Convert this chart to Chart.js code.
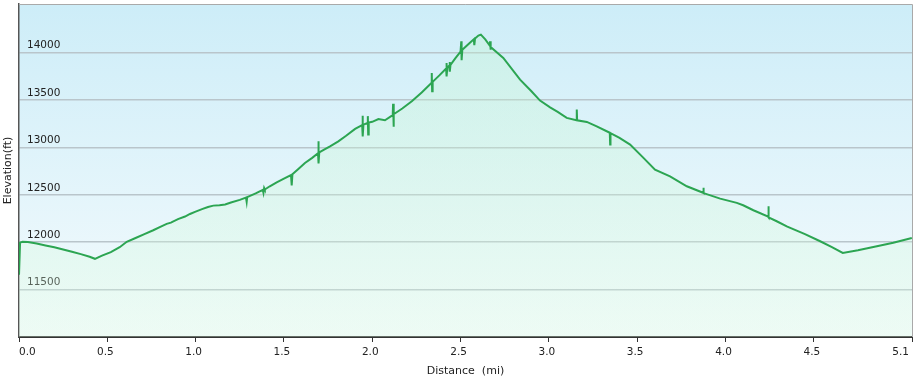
<!DOCTYPE html>
<html><head><meta charset="utf-8">
<script src="https://cdn.jsdelivr.net/npm/chart.js@4"></script>
<style>html,body{margin:0;padding:0;background:#fff}</style>
</head><body>
<canvas id="c" width="917" height="383"></canvas>
<script>
const distances = [0.000,0.006,0.020,0.050,0.100,0.150,0.200,0.250,0.300,0.350,0.400,0.430,0.470,0.520,0.570,0.610,0.660,0.710,0.760,0.800,0.836,0.860,0.900,0.940,0.968,1.000,1.040,1.070,1.100,1.135,1.167,1.200,1.250,1.285,1.289,1.292,1.340,1.380,1.384,1.388,1.392,1.420,1.459,1.500,1.540,1.544,1.548,1.580,1.619,1.660,1.693,1.695,1.697,1.700,1.730,1.761,1.808,1.850,1.903,1.943,1.945,1.947,1.950,1.973,1.975,1.977,1.980,2.000,2.035,2.072,2.116,2.118,2.120,2.123,2.170,2.224,2.280,2.335,2.337,2.339,2.342,2.380,2.418,2.420,2.422,2.425,2.436,2.438,2.440,2.443,2.470,2.500,2.504,2.506,2.510,2.550,2.575,2.578,2.582,2.601,2.615,2.640,2.665,2.667,2.669,2.672,2.742,2.837,2.900,2.950,3.007,3.050,3.101,3.156,3.158,3.160,3.215,3.271,3.345,3.347,3.349,3.400,3.460,3.530,3.601,3.686,3.781,3.873,3.875,3.877,3.970,4.064,4.100,4.158,4.241,4.243,4.245,4.290,4.350,4.450,4.536,4.600,4.664,4.750,4.857,4.950,5.055];
const elevations = [11658,11995,12005,12002,11986,11966,11946,11923,11900,11874,11846,11825,11858,11896,11947,12004,12044,12086,12126,12162,12193,12207,12244,12271,12298,12322,12351,12372,12386,12391,12398,12419,12447,12470,12425,12475,12515,12552,12520,12572,12556,12590,12632,12670,12708,12600,12716,12770,12836,12890,12938,13064,12830,12948,12980,13012,13064,13120,13195,13235,13333,13117,13240,13258,13330,13135,13262,13270,13300,13286,13340,13461,13219,13350,13410,13486,13580,13680,13786,13592,13692,13760,13832,13891,13750,13845,13862,13900,13800,13870,13940,14010,14119,13919,14030,14100,14140,14080,14150,14180,14190,14140,14075,14119,14031,14060,13944,13715,13595,13494,13423,13375,13311,13287,13399,13286,13269,13222,13155,13030,13150,13100,13030,12900,12766,12695,12590,12522,12575,12518,12460,12415,12390,12337,12270,12379,12262,12221,12165,12085,12010,11950,11887,11915,11957,11995,12045];
const xTickValues = [0,0.5,1.0,1.5,2.0,2.5,3.0,3.5,4.0,4.5,5.056];
const xTickLabels = ['0.0','0.5','1.0','1.5','2.0','2.5','3.0','3.5','4.0','4.5','5.1'];
const yTickValues = [11500,12000,12500,13000,13500,14000];
const xTitle = 'Distance  (mi)';
const yTitle = 'Elevation(ft)';

const points = distances.map((d,i)=>({x:d,y:elevations[i]}));
const FONT = 'DejaVu Sans';

const bgPlugin = {
  id:'bg',
  beforeDraw(chart){
    const {ctx, chartArea:a} = chart;
    const g = ctx.createLinearGradient(0,a.top,0,a.bottom);
    g.addColorStop(0,'rgb(205,237,248)');
    g.addColorStop(1,'rgb(245,251,253)');
    ctx.save(); ctx.fillStyle=g; ctx.fillRect(a.left,a.top,a.right-a.left,a.bottom-a.top); ctx.restore();
  },
  afterDraw(chart){
    const {ctx, chartArea:a, scales} = chart;
    ctx.save();
    ctx.strokeStyle='#a9a9a9'; ctx.lineWidth=1;
    ctx.beginPath(); ctx.moveTo(a.left,a.top+0.5); ctx.lineTo(a.right+0.5,a.top+0.5); ctx.lineTo(a.right+0.5,a.bottom); ctx.stroke();
    ctx.fillStyle='#222'; ctx.font='10.5px "'+FONT+'"'; ctx.textBaseline='middle';
    const xs = scales.x;
    xTickValues.forEach((v,i)=>{
      const px = xs.getPixelForValue(v);
      let tx = px-2; ctx.textAlign='center';
      if(i===0){ctx.textAlign='left'; tx=px;}
      else if(i===xTickValues.length-1){ctx.textAlign='right'; tx=px-3;}
      ctx.fillText(xTickLabels[i], tx, a.bottom+15);
    });
    ctx.restore();
  }
};

new Chart(document.getElementById('c'),{
  type:'line',
  data:{datasets:[{
    data:points,
    borderColor:'rgb(44,165,82)',
    borderWidth:2,
    pointRadius:0,
    tension:0,
    fill:'start',
    backgroundColor:(ctx)=>{
      const a = ctx.chart.chartArea; if(!a) return 'rgba(200,245,210,0.3)';
      const g = ctx.chart.ctx.createLinearGradient(0,a.top,0,a.bottom);
      g.addColorStop(0,'rgba(190,245,200,0.3)');
      g.addColorStop(1,'rgba(220,252,225,0.3)');
      return g;
    }
  }]},
  options:{
    responsive:false, animation:false,
    layout:{padding:{top:4,right:5,bottom:0,left:0}},
    plugins:{legend:{display:false},tooltip:{enabled:false}},
    scales:{
      x:{
        type:'linear', min:0, max:5.056,
        afterBuildTicks(s){ s.ticks = xTickValues.map(v=>({value:v})); },
        afterFit(s){ s.height = 46; s.paddingLeft = 0; s.paddingRight = 0; },
        grid:{drawOnChartArea:false, drawTicks:true, tickLength:5, color:'#333', tickColor:'#333'},
        border:{display:true, color:'#333', width:2},
        ticks:{display:false},
        title:{display:true, text:xTitle, color:'#222', font:{family:FONT,size:11}, padding:{top:0,bottom:5}}
      },
      y:{
        type:'linear', min:11000, max:14513,
        afterBuildTicks(s){ s.ticks = yTickValues.map(v=>({value:v})); },
        afterFit(s){ s.width = 19; s.paddingTop = 0; s.paddingBottom = 0; },
        grid:{drawTicks:false, color:'#b9c5cb', lineWidth:1.5},
        border:{display:true, color:'#555', width:1.5},
        ticks:{mirror:true, padding:8, labelOffset:-7, color:'#222', font:{family:FONT,size:10.5}, callback:(v)=>String(v)},
        title:{display:true, text:yTitle, color:'#222', font:{family:FONT,size:11}, padding:{top:1.5,bottom:0}}
      }
    }
  },
  plugins:[bgPlugin]
});
</script>
</body></html>
